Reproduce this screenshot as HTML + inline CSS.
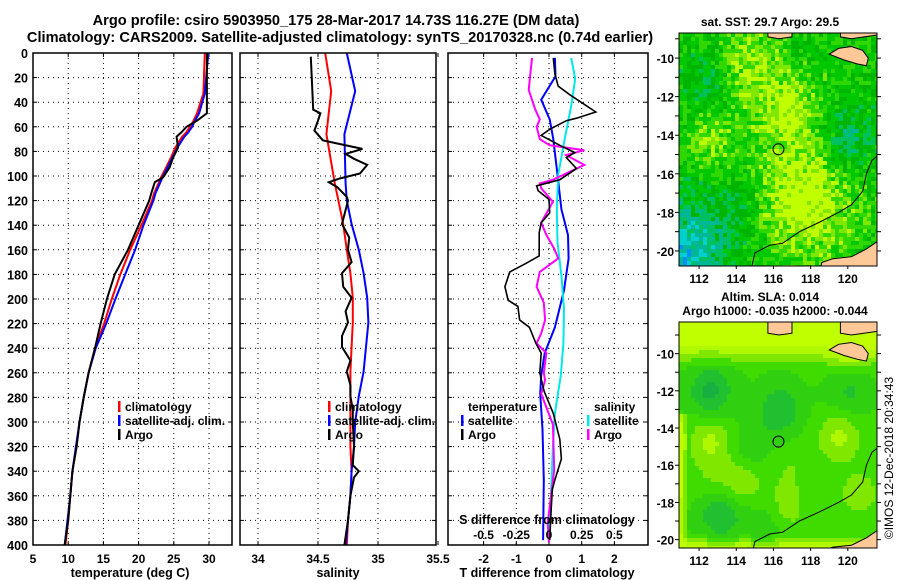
<!DOCTYPE html>
<html><head><meta charset="utf-8"><style>
html,body{margin:0;padding:0;background:#fff;}
svg{display:block;font-family:"Liberation Sans",Arial,sans-serif;font-weight:bold;}
</style></head><body>
<svg id="root" width="900" height="580" viewBox="0 0 900 580" xmlns="http://www.w3.org/2000/svg">
<text x="336" y="25" font-size="14.6" text-anchor="middle">Argo profile: csiro 5903950_175 28-Mar-2017 14.73S 116.27E (DM data)</text>
<text x="340" y="42" font-size="14.6" text-anchor="middle">Climatology: CARS2009. Satellite-adjusted climatology: synTS_20170328.nc (0.74d earlier)</text>
<text x="770" y="26" font-size="12" text-anchor="middle">sat. SST: 29.7 Argo: 29.5</text>
<text x="770" y="301" font-size="12" text-anchor="middle">Altim. SLA: 0.014</text>
<text x="775" y="315" font-size="12" text-anchor="middle">Argo h1000: -0.035 h2000: -0.044</text>
<text transform="translate(893,458) rotate(-90)" font-size="12" font-weight="normal" text-anchor="middle">©IMOS 12-Dec-2018 20:34:43</text>
<g id="panels"></g>
</svg>
<script>
// ---------- data ----------
const tDepth = [0, 33, 49, 55, 60, 65, 68, 77, 85, 93, 101, 105, 114, 120, 140, 160, 180, 200, 220, 240, 260, 280, 300, 320, 340, 360, 380, 400];
const tArgo  = [29.7, 29.7, 29.7, 28.3, 26.8, 26.0, 25.4, 25.6, 24.9, 24.4, 23.5, 22.3, 21.8, 21.5, 20.0, 18.5, 16.6, 15.5, 14.6, 13.8, 12.9, 12.2, 11.6, 11.2, 10.6, 10.3, 10.0, 9.5];
const tClim  = [29.4, 29.2, 28.3, 27.8, 27.3, 26.7, 26.2, 25.2, 24.6, 23.9, 23.2, 22.9, 22.2, 21.9, 20.4, 18.8, 17.4, 16.2, 15.1, 13.8, 12.9, 12.2, 11.6, 11.2, 10.6, 10.3, 10.0, 9.6];
const tSat   = [29.9, 29.4, 28.6, 28.0, 27.6, 27.0, 26.5, 25.5, 24.8, 24.1, 23.4, 23.1, 22.4, 22.1, 20.7, 19.5, 18.1, 16.7, 15.4, 13.9, 12.9, 12.2, 11.6, 11.1, 10.6, 10.3, 9.9, 9.5];

const sArgoDepth = [3, 46, 49, 55, 63, 71, 74, 78, 82, 86, 91, 98, 102, 105, 109, 117, 120, 139, 150, 160, 170, 179, 190, 199, 210, 219, 230, 239, 250, 259, 270, 279, 290, 300, 320, 335, 340, 345, 360, 380, 400];
const sArgo      = [34.44, 34.46, 34.52, 34.50, 34.47, 34.54, 34.68, 34.87, 34.73, 34.80, 34.91, 34.85, 34.68, 34.59, 34.66, 34.74, 34.75, 34.70, 34.76, 34.75, 34.78, 34.70, 34.71, 34.78, 34.73, 34.75, 34.70, 34.70, 34.77, 34.74, 34.77, 34.77, 34.79, 34.79, 34.80, 34.79, 34.84, 34.80, 34.77, 34.75, 34.72];
const sClimDepth = [0, 31, 66, 106, 120, 139, 160, 179, 199, 219, 239, 259, 279, 300, 320, 340, 360, 380, 400];
const sClim      = [34.56, 34.61, 34.57, 34.64, 34.67, 34.71, 34.74, 34.77, 34.79, 34.79, 34.78, 34.77, 34.77, 34.77, 34.77, 34.78, 34.77, 34.75, 34.74];
const sSat       = [34.74, 34.81, 34.72, 34.73, 34.74, 34.78, 34.84, 34.88, 34.91, 34.92, 34.90, 34.88, 34.84, 34.81, 34.80, 34.78, 34.77, 34.75, 34.73];

const dTArgoDepth = [4, 17, 27, 34, 48, 53, 55, 62, 67, 75, 81, 85, 94, 103, 108, 112, 119, 130, 138, 146, 154, 165, 171, 178, 190, 201, 206, 217, 223, 236, 244, 260, 275, 293, 314, 330, 347, 355, 369, 396];
const dTArgo      = [0.13, 0.18, 0.28, 0.64, 1.43, 0.84, 0.53, 0.02, -0.24, 0.33, 0.79, 0.53, 0.84, 0.33, -0.38, -0.33, 0.0, 0.02, -0.24, -0.30, -0.30, -0.30, -0.70, -1.20, -1.35, -1.25, -0.95, -0.90, -0.60, -0.40, -0.24, -0.28, -0.15, 0.13, 0.33, 0.38, 0.18, 0.10, 0.07, 0.02];
const dSArgoDepth = [4, 30, 46, 54, 60, 70, 75, 79, 83, 91, 99, 103, 106, 110, 121, 138, 148, 159, 167, 178, 190, 203, 217, 228, 236, 244, 260, 266, 277, 291, 302, 339, 382, 398];
const dSArgo      = [-0.13, -0.155, -0.105, -0.07, -0.095, -0.07, 0.005, 0.27, 0.13, 0.27, 0.11, 0.03, -0.07, -0.06, 0.03, -0.06, -0.02, 0.04, 0.07, -0.07, -0.095, -0.04, -0.03, -0.06, -0.095, -0.02, -0.04, -0.03, -0.06, -0.01, 0.03, 0.04, -0.01, 0.0];
const dSatDepth   = [4, 19, 38, 54, 70, 99, 127, 148, 167, 193, 223, 244, 262, 277, 306, 347, 396];
const dTSat       = [0.18, 0.20, -0.24, 0.02, 0.13, 0.26, 0.38, 0.58, 0.60, 0.46, 0.18, -0.13, -0.24, -0.27, -0.20, -0.16, -0.18];
const dSSatDepth  = [4, 21, 43, 70, 99, 127, 154, 181, 208, 236, 262, 293, 320, 347, 396];
const dSSat       = [0.17, 0.20, 0.17, 0.12, 0.07, 0.06, 0.065, 0.095, 0.115, 0.11, 0.09, 0.045, 0.03, 0.02, 0.0];

const depthTicks = [0,20,40,60,80,100,120,140,160,180,200,220,240,260,280,300,320,340,360,380,400];
const tempTicks = [5,10,15,20,25,30];
const salTicks = [34,34.5,35,35.5];
const dTTicks = [-2,-1,0,1,2];
const dSTicks = [-0.5,-0.25,0,0.25,0.5];
const lonTicks = [112,114,116,118,120];
const latTicks = [-10,-12,-14,-16,-18,-20];

// ---------- helpers ----------
const NS = "http://www.w3.org/2000/svg";
const root = document.getElementById('panels');
function mk(tag, attrs, parent){ const e=document.createElementNS(NS,tag); for(const k in attrs) e.setAttribute(k,attrs[k]); (parent||root).appendChild(e); return e; }
const PT=53, PB=545;
const yD = d => PT + d*(PB-PT)/400;
function polyline(xs, ds, xf, color, w, name){
  const pts = xs.map((v,i)=>xf(v).toFixed(1)+','+yD(ds[i]).toFixed(1)).join(' ');
  const p = mk('polyline',{points:pts,fill:'none',stroke:color,'stroke-width':w,'stroke-linejoin':'miter'});
  
  
}
function panel(x0,x1,name,xf,ticks,labelFmt,title,labelPos){
  const g = mk('g',{});
  
  
  mk('rect',{x:x0,y:PT,width:x1-x0,height:PB-PT,fill:'#fff',stroke:'none'},g);
  depthTicks.forEach(d=>{ if(d>0&&d<400) mk('line',{x1:x0,x2:x1,y1:yD(d),y2:yD(d),stroke:'#000','stroke-width':1,'stroke-dasharray':'1,4'},g);
    mk('line',{x1:x0,x2:x0+4,y1:yD(d),y2:yD(d),stroke:'#000'},g); mk('line',{x1:x1-4,x2:x1,y1:yD(d),y2:yD(d),stroke:'#000'},g);});
  ticks.forEach(v=>{ const x=xf(v); if(x>x0+1&&x<x1-1) mk('line',{x1:x,x2:x,y1:PT,y2:PB,stroke:'#000','stroke-dasharray':'1,4'},g);
    mk('line',{x1:x,x2:x,y1:PB-4,y2:PB,stroke:'#000'},g); mk('line',{x1:x,x2:x,y1:PT,y2:PT+4,stroke:'#000'},g);
    const t=mk('text',{x:x,y:563,'font-size':12,'text-anchor':'middle'},g); t.textContent=labelFmt(v);
    
    
  });
  const tt=mk('text',{x:labelPos,y:577,'font-size':12.5,'text-anchor':'middle'},g); tt.textContent=title;
  
  
  return g;
}
function frame(x0,x1){ mk('rect',{x:x0,y:PT,width:x1-x0,height:PB-PT,fill:'none',stroke:'#000','stroke-width':1.5}); }
function legendEntry(x,y,color,label){
  const g=mk('g',{});
  
  
  mk('rect',{x:x,y:y-10,width:2.5,height:11,fill:color},g);
  const t=mk('text',{x:x+7,y:y,'font-size':12},g); t.textContent=label;
}

// y axis labels
depthTicks.forEach(d=>{ const t=mk('text',{x:28,y:yD(d)+5,'font-size':12.5,'text-anchor':'end'}); t.textContent=d;
  
  
});

// panel 1 temperature
const xT = v => 33 + (v-5)*7.04;
panel(33,232,'temperature-panel',xT,tempTicks,v=>v,'temperature (deg C)',130);
polyline(tClim,tDepth,xT,'#ff0000',2,'temp-climatology-line');
polyline(tSat,tDepth,xT,'#0000ff',2,'temp-satellite-line');
polyline(tArgo,tDepth,xT,'#000',2,'temp-argo-line');
legendEntry(118,411,'#ff0000','climatology');
legendEntry(118,425,'#0000ff','satellite-adj. clim.');
legendEntry(118,439,'#000','Argo');
frame(33,232);

// panel 2 salinity
const xS = v => 258 + (v-34)*120;
panel(240,436,'salinity-panel',xS,salTicks,v=>v,'salinity',338);
polyline(sClim,sClimDepth,xS,'#ff0000',2,'sal-climatology-line');
polyline(sSat,sClimDepth,xS,'#0000ff',2,'sal-satellite-line');
polyline(sArgo,sArgoDepth,xS,'#000',2,'sal-argo-line');
legendEntry(328,411,'#ff0000','climatology');
legendEntry(328,425,'#0000ff','satellite-adj. clim.');
legendEntry(328,439,'#000','Argo');
frame(240,436);

// panel 3 differences
const xdT = v => 549 + v*32.7;
const xdS = v => 549 + v*4*32.7;
panel(448,648,'difference-panel',xdT,dTTicks,v=>v,'T difference from climatology',547);
mk('line',{x1:549,x2:549,y1:PT,y2:PB,stroke:'#000','stroke-dasharray':'1,4'});
polyline(dTSat,dSatDepth,xdT,'#0000ff',2,'dT-satellite-line');
polyline(dSSat,dSSatDepth,xdS,'#00e8e8',2,'dS-satellite-line');
polyline(dSArgo,dSArgoDepth,xdS,'#ff00ff',2,'dS-argo-line');
polyline(dTArgo,dTArgoDepth,xdT,'#000',1.6,'dT-argo-line');
{ const t=mk('text',{x:468,y:411,'font-size':12}); t.textContent='temperature';
    }
legendEntry(461,425,'#0000ff','satellite');
legendEntry(461,439,'#000','Argo');
{ const t=mk('text',{x:594,y:411,'font-size':12}); t.textContent='salinity';
    }
legendEntry(587,425,'#00e8e8','satellite');
legendEntry(587,439,'#ff00ff','Argo');
{ const t=mk('text',{x:547,y:524,'font-size':12.5,'text-anchor':'middle'}); t.textContent='S difference from climatology';
    }
dSTicks.forEach(v=>{ const t=mk('text',{x:xdS(v),y:539,'font-size':12,'text-anchor':'middle'}); t.textContent=v;
    });
frame(448,648);

// ---------- maps ----------
function hash(i,j,s){ let h=(i*374761393 + j*668265263 + s*982451653)|0; h=(h^(h>>>13))*1274126177|0; return ((h^(h>>>16))>>>0)/4294967296; }
function map(top,bottom,latTop,latBot,name,fieldFn,clipId){
  const x0=679,x1=877, lon0=110.92, lon1=121.57;
  const lx = lon => x0 + (lon-lon0)*(x1-x0)/(lon1-lon0);
  const ly = lat => top + (latTop-lat)*(bottom-top)/(latTop-latBot);
  const g=mk('g',{});
  
  
  const cp=mk('clipPath',{id:clipId},g); mk('rect',{x:x0,y:top,width:x1-x0,height:bottom-top},cp);
  const cg=mk('g',{'clip-path':'url(#'+clipId+')'},g);
  const cs=4;
  for(let j=0;j*cs<bottom-top;j++) for(let i=0;i*cs<x1-x0;i++){
    mk('rect',{x:x0+i*cs,y:top+j*cs,width:cs+0.3,height:cs+0.3,fill:fieldFn(i,j,(x1-x0)/cs,(bottom-top)/cs)},cg);
  }
  const poly=(arr,fill,stroke)=>mk('polygon',{points:arr.map(p=>lx(p[0]).toFixed(1)+','+ly(p[1]).toFixed(1)).join(' '),fill:fill,stroke:stroke,'stroke-width':1},cg);
  poly([[119.0,-9.8],[119.5,-9.5],[120.2,-9.4],[120.8,-9.6],[121.1,-10.0],[121.0,-10.4],[120.5,-10.3],[119.8,-10.1]],'#ffc896','#000');
  poly([[115.7,-8.0],[115.7,-8.9],[116.3,-9.0],[117.0,-8.9],[117.0,-8.0]],'#ffc896','#000');
  poly([[119.6,-8.0],[119.6,-8.9],[120.2,-9.0],[121.6,-8.8],[121.6,-8.0]],'#ffc896','#000');
  poly([[118.4,-21.5],[118.6,-20.6],[119.2,-20.4],[120.2,-20.3],[121.0,-19.9],[121.6,-19.5],[121.6,-21.5]],'#ffc896','#000');
  const cont=[[114.8,-21],[115.0,-20.1],[115.8,-19.7],[116.5,-19.6],[117.4,-19.0],[118.5,-18.5],[119.5,-18.0],[120.2,-17.6],[120.8,-16.9],[121.0,-16.0],[121.3,-15.3],[121.7,-15.0]];
  mk('polyline',{points:cont.map(p=>lx(p[0]).toFixed(1)+','+ly(p[1]).toFixed(1)).join(' '),fill:'none',stroke:'#000','stroke-width':1},cg);
  mk('circle',{cx:lx(116.27),cy:ly(-14.73),r:5.5,fill:'none',stroke:'#000','stroke-width':1},g);
  mk('rect',{x:x0,y:top,width:x1-x0,height:bottom-top,fill:'none',stroke:'#000','stroke-width':1},g);
  lonTicks.forEach(l=>{ const x=lx(l); mk('line',{x1:x,x2:x,y1:bottom,y2:bottom+3,stroke:'#000'},g);
    const t=mk('text',{x:x,y:bottom+17,'font-size':12,'text-anchor':'middle'},g); t.textContent=l;
      });
  for(let la=-9;la>=-20;la--){ const y=ly(la); if(y>top&&y<bottom){ mk('line',{x1:x0-4,x2:x0,y1:y,y2:y,stroke:'#000'},g); mk('line',{x1:x1,x2:x1+4,y1:y,y2:y,stroke:'#000'},g);} }
  latTicks.forEach(l=>{ const t=mk('text',{x:x0-5,y:ly(l)+5,'font-size':12,'text-anchor':'end'},g); t.textContent=l;
      });
}
const sstCols=['#00b400','#00c800','#30d800','#80e800','#c0ff00','#00c060','#00b898','#00d0d0','#0090ff','#0000ff'];
function g2(u,v,cu,cv,s){ return Math.exp(-((u-cu)**2+(v-cv)**2)/s); }
function sstField(i,j,W,H){
  const u=i/W, v=j/H;
  let base = 0.45 + 0.5*g2(u,v,0.62,0.7,0.06) + 0.35*g2(u,v,0.35,0.15,0.03) + 0.35*g2(u,v,0.55,0.35,0.02)
           + 0.3*g2(u,v,0.15,0.45,0.015)
           - 0.6*g2(u,v,0.0,0.95,0.06) - 0.35*g2(u,v,0.85,0.45,0.02) - 0.25*g2(u,v,0.15,0.2,0.02) - 0.2*g2(u,v,0.3,0.75,0.02);
  base += (hash(i,j,1)-0.5)*0.4;
  if(base>0.78) return sstCols[4]; if(base>0.66) return sstCols[3]; if(base>0.52) return sstCols[2];
  if(base>0.35) return sstCols[1]; if(base>0.2) return sstCols[0]; if(base>0.05) return sstCols[5];
  if(base>-0.1) return sstCols[6]; if(base>-0.25) return sstCols[7]; return sstCols[8];
}
const slaCols=['#18b040','#20c030','#30d010','#40dc00','#80e800','#b0f800','#c0ff00'];
function slaField(i,j,W,H){
  const u=i/W, v=j/H;
  let f = 0.45;
  f += 0.75*Math.max(0,(0.2-v)/0.2);
  f += 0.5*Math.max(0,(v-0.93)/0.07);
  f += 0.4*Math.max(0,(0.04-u)/0.04)*(v>0.4?1:0);
  const blobs=[[0.15,0.3,-0.35],[0.5,0.38,-0.3],[0.85,0.3,-0.2],[0.35,0.55,-0.15],[0.2,0.83,-0.35],[0.45,0.88,-0.2],
               [0.15,0.52,0.3],[0.8,0.5,0.3],[0.3,0.7,0.25],[0.55,0.64,0.12],[0.9,0.75,0.2],[0.52,0.83,0.25],[0.15,0.72,0.12],[0.85,0.12,0.2]];
  blobs.forEach(b=>{ f += b[2]*g2(u,v,b[0],b[1],0.012); });
  f = Math.max(0,Math.min(0.999,f));
  return slaCols[Math.floor(f*slaCols.length)];
}
map(33,266,-8.7,-20.78,'sst-map',sstField,'clip1');
map(322,548,-8.3,-20.45,'sla-map',slaField,'clip2');
</script>
</body></html>
